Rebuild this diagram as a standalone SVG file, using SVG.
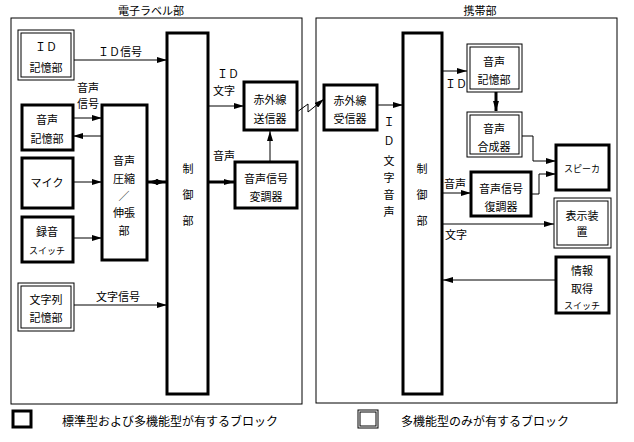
<svg xmlns="http://www.w3.org/2000/svg" width="634" height="442" viewBox="0 0 634 442">
<style>
text{font-family:"Noto Sans CJK JP","Liberation Sans",sans-serif;font-size:11px;fill:#000;text-anchor:middle}
.l{text-anchor:start;font-size:12px}
.frame{fill:none;stroke:#000;stroke-width:1}
.thick{fill:#fff;stroke:#000;stroke-width:3}
.dbl{fill:#fff;stroke:#000;stroke-width:1}
.c{fill:none;stroke:#000;stroke-width:1}
.cb{fill:none;stroke:#000;stroke-width:3}
</style>
<defs>
<marker id="a" viewBox="0 0 10 6" refX="10" refY="3" markerWidth="10" markerHeight="6" markerUnits="userSpaceOnUse" orient="auto"><path d="M0,0L10,3L0,6z" fill="#000"/></marker>
<marker id="b" viewBox="0 0 10 6" refX="10" refY="3" markerWidth="10" markerHeight="6" markerUnits="userSpaceOnUse" orient="auto-start-reverse"><path d="M0,0L10,3L0,6z" fill="#000"/></marker>
</defs>
<rect width="634" height="442" fill="#fff"/>
<g id="frames">
<rect class="frame" x="11" y="18" width="291" height="386"/>
<text x="151" y="15">電子ラベル部</text>
<rect class="frame" x="316" y="18" width="301" height="385"/>
<text x="480" y="15">携帯部</text>
</g>
<g id="connectors">
<line class="c" x1="74" y1="60" x2="167" y2="60" marker-end="url(#a)"/>
<text x="120" y="56">ＩＤ信号</text>
<text x="88" y="92">音声</text><text x="88" y="108">信号</text>
<line class="c" x1="73" y1="118" x2="102" y2="118" marker-end="url(#a)"/>
<line class="c" x1="102" y1="136" x2="73" y2="136" marker-end="url(#a)"/>
<line class="c" x1="73" y1="182" x2="102" y2="182" marker-end="url(#a)"/>
<line class="cb" x1="148" y1="182" x2="166" y2="182" marker-start="url(#b)" marker-end="url(#b)"/>
<line class="c" x1="73" y1="238" x2="102" y2="238" marker-end="url(#a)"/>
<line class="c" x1="74" y1="305" x2="167" y2="305" marker-end="url(#a)"/>
<text x="118" y="301">文字信号</text>
<line class="c" x1="208" y1="106" x2="244" y2="106" marker-end="url(#a)"/>
<text x="228" y="78">ＩＤ</text><text x="224" y="95">文字</text>
<line class="cb" x1="208" y1="182" x2="234" y2="182" marker-end="url(#a)"/>
<text x="224" y="160">音声</text>
<line class="c" x1="270" y1="162" x2="270" y2="131" marker-end="url(#a)"/>
<polyline class="c" points="297,112 308,104 308,112 324,99" marker-end="url(#a)"/>
<line class="c" x1="377" y1="105" x2="403" y2="105" marker-end="url(#a)"/>
<text x="389" y="126">Ｉ</text><text x="389" y="145">Ｄ</text><text x="389" y="165">文</text><text x="389" y="182">字</text><text x="389" y="199">音</text><text x="389" y="216">声</text>
<line class="c" x1="442" y1="71" x2="467" y2="71" marker-end="url(#a)"/>
<text x="456" y="88">ＩＤ</text>
<line class="cb" x1="496" y1="92" x2="496" y2="111" marker-end="url(#a)"/>
<polyline class="c" points="522,136 533,136 533,161 556,161" marker-end="url(#a)"/>
<line class="c" x1="442" y1="193" x2="471" y2="193" marker-end="url(#a)"/>
<text x="455" y="188">音声</text>
<polyline class="c" points="531,194 539,194 539,174 556,174" marker-end="url(#a)"/>
<line class="c" x1="442" y1="224" x2="554" y2="224" marker-end="url(#a)"/>
<text x="456" y="239">文字</text>
<line class="c" x1="556" y1="280" x2="443" y2="280" marker-end="url(#a)"/>
</g>
<g id="id-mem"><rect class="dbl" x="18" y="30" width="56" height="50"/><rect class="dbl" x="21" y="33" width="50" height="44"/><text x="46" y="51">ＩＤ</text><text x="46" y="72">記憶部</text></g>
<g id="voice-mem"><rect class="thick" x="22" y="105" width="51" height="45"/><text x="47" y="124">音声</text><text x="47" y="143">記憶部</text></g>
<g id="mic"><rect class="thick" x="22" y="158" width="51" height="50"/><text x="47" y="187">マイク</text></g>
<g id="rec-sw"><rect class="thick" x="22" y="217" width="51" height="45"/><text x="47" y="236">録音</text><text x="47" y="254" style="font-size:9px">スイッチ</text></g>
<g id="str-mem"><rect class="dbl" x="18" y="283" width="56" height="48"/><rect class="dbl" x="21" y="286" width="50" height="42"/><text x="46" y="304">文字列</text><text x="46" y="322">記憶部</text></g>
<g id="codec"><rect class="thick" x="102" y="105" width="45" height="155"/><text x="124" y="165">音声</text><text x="124" y="183">圧縮</text><text x="124" y="200">／</text><text x="124" y="217">伸張</text><text x="124" y="235">部</text></g>
<g id="ctrl-l"><rect class="thick" x="167" y="33" width="41" height="361"/><text x="188" y="173">制</text><text x="188" y="199">御</text><text x="188" y="225">部</text></g>
<g id="ir-tx"><rect class="thick" x="244" y="82" width="53" height="48"/><text x="270" y="104">赤外線</text><text x="270" y="123">送信器</text></g>
<g id="mod"><rect class="thick" x="235" y="162" width="62" height="46"/><text x="266" y="183">音声信号</text><text x="266" y="201">変調器</text></g>
<g id="ir-rx"><rect class="thick" x="324" y="85" width="53" height="45"/><text x="350" y="105">赤外線</text><text x="350" y="123">受信器</text></g>
<g id="ctrl-r"><rect class="thick" x="403" y="33" width="39" height="361"/><text x="422" y="173">制</text><text x="422" y="199">御</text><text x="422" y="225">部</text></g>
<g id="vmem-r"><rect class="dbl" x="467" y="44" width="55" height="48"/><rect class="dbl" x="470" y="47" width="49" height="42"/><text x="494" y="66">音声</text><text x="494" y="84">記憶部</text></g>
<g id="synth"><rect class="dbl" x="467" y="112" width="55" height="45"/><rect class="dbl" x="470" y="115" width="49" height="39"/><text x="494" y="133">音声</text><text x="494" y="151">合成器</text></g>
<g id="spk"><rect class="thick" x="556" y="145" width="53" height="45"/><text x="582" y="172" style="font-size:9px">スピーカ</text></g>
<g id="demod"><rect class="thick" x="471" y="172" width="60" height="44"/><text x="501" y="193">音声信号</text><text x="501" y="211">復調器</text></g>
<g id="disp"><rect class="dbl" x="554" y="198" width="57" height="50"/><rect class="dbl" x="557" y="201" width="51" height="44"/><text x="582" y="220">表示装</text><text x="582" y="236">置</text></g>
<g id="info-sw"><rect class="thick" x="556" y="257" width="53" height="56"/><text x="582" y="275">情報</text><text x="582" y="293">取得</text><text x="582" y="309" style="font-size:9px">スイッチ</text></g>
<g id="legend">
<rect class="thick" x="13" y="411" width="18" height="16"/>
<text class="l" x="62" y="426">標準型および多機能型が有するブロック</text>
<rect class="dbl" x="358" y="410" width="20" height="18"/><rect class="dbl" x="360" y="412" width="16" height="14"/>
<text class="l" x="401" y="426">多機能型のみが有するブロック</text>
</g>
</svg>
